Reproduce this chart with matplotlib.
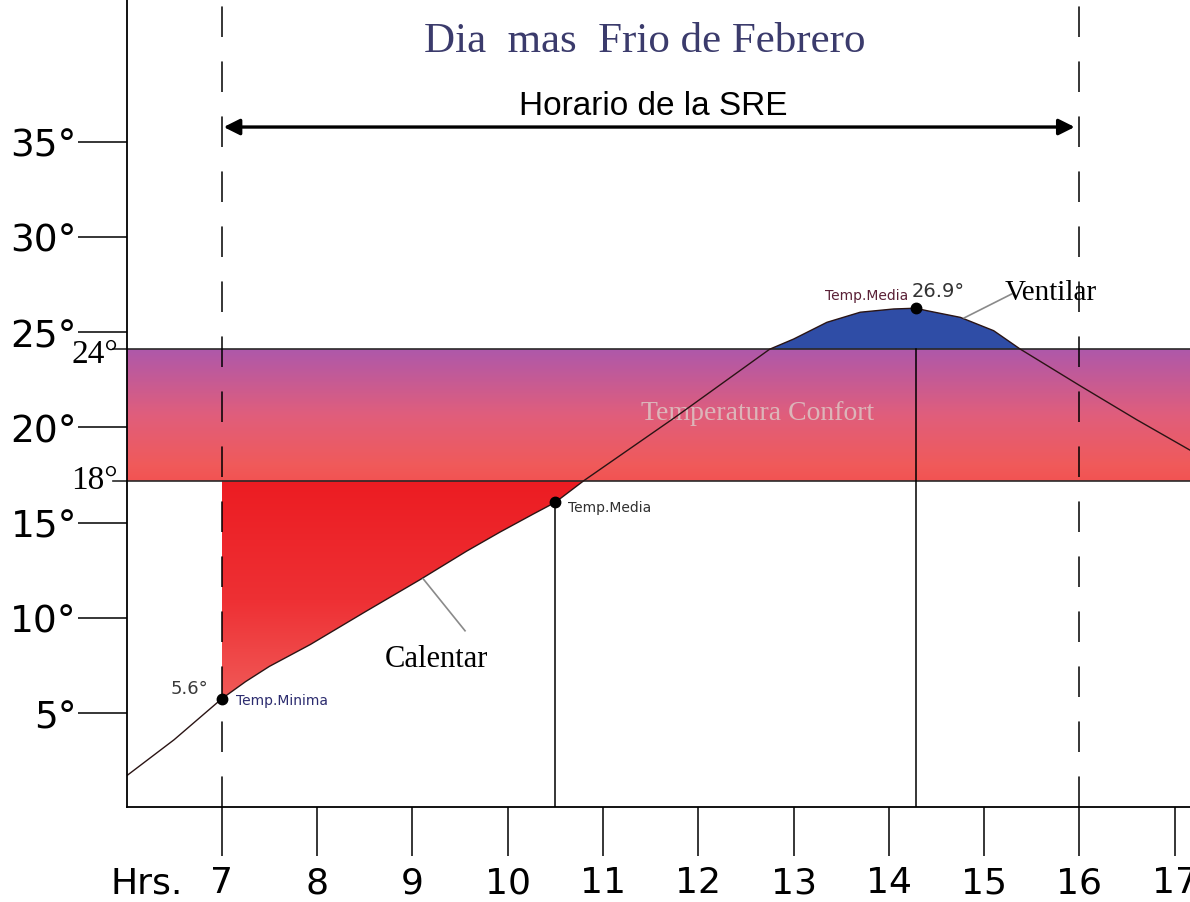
import numpy as np
import matplotlib
matplotlib.use("Agg")
import matplotlib.pyplot as plt
from matplotlib.colors import LinearSegmentedColormap

# ---------------- data ----------------
hours = [6.0, 6.5, 7.0, 7.25, 7.5, 7.93, 8.5, 9.08, 9.57, 9.92, 10.27,
         10.5, 10.8, 11.75, 12.75, 13.0, 13.35, 13.7, 14.05, 14.28, 14.4,
         14.75, 15.1, 15.38, 16.0, 16.6, 17.16]
temps = [1.7, 3.6, 5.75, 6.65, 7.45, 8.6, 10.3, 12.0, 13.5, 14.5, 15.45,
         16.06, 17.2, 20.5, 24.1, 24.63, 25.51, 26.04, 26.21, 26.25, 26.12,
         25.77, 25.07, 24.1, 22.2, 20.4, 18.8]

comfort_low = 17.2      # drawn level of the "18°" line
comfort_high = 24.1     # drawn level of the "24°" line
comfort_labels = ["18°", "24°"]

key_hours = [7.0, 10.5, 14.28]
key_temps = [5.75, 16.06, 26.25]
key_names = ["Temp.Minima", "Temp.Media", "Temp.Media"]
key_values = ["5.6°", "", "26.9°"]

sre_start, sre_end = 7, 16          # "Horario de la SRE"
x_ticks = [7, 8, 9, 10, 11, 12, 13, 14, 15, 16, 17]
x_tick_labels = ["7", "8", "9", "10", "11", "12", "13", "14", "15", "16", "17"]
y_ticks = [5, 10, 15, 20, 25, 30, 35]
y_tick_labels = ["5°", "10°", "15°", "20°", "25°", "30°", "35°"]

# heating region (Calentar) and ventilation region (Ventilar) index ranges
heat_slice = slice(2, 13)
vent_slice = slice(14, 24)

XMIN, XMAX = 6.006, 17.16
YMIN, YMAX = 0.07, 42.48

# ---------------- figure ----------------
W, H = 1190, 903
fig = plt.figure(figsize=(W / 100, H / 100), dpi=100)
ax = fig.add_axes([127 / W, (H - 808) / H, (W - 127) / W, 808 / H])
ax.set_facecolor("white")

# comfort band gradient
band_cmap = LinearSegmentedColormap.from_list(
    "band", [(0.0, "#f25352"), (0.12, "#f05a5a"), (0.5, "#e05e7c"), (1.0, "#ae58aa")])
grad = np.linspace(0, 1, 256).reshape(-1, 1)
ax.imshow(grad, extent=[XMIN, XMAX, comfort_low, comfort_high], origin="lower",
          aspect="auto", cmap=band_cmap, zorder=1, interpolation="bicubic")

# heating region with gradient
h_heat = np.array(hours[heat_slice])
t_heat = np.array(temps[heat_slice])
heat_poly = ax.fill_between(h_heat, t_heat, comfort_low, facecolor="none",
                            edgecolor="none", zorder=2)
red_cmap = LinearSegmentedColormap.from_list(
    "red", [(0.0, "#f05a58"), (0.45, "#ee3034"), (1.0, "#ec1c22")])
img = ax.imshow(grad, extent=[h_heat.min(), h_heat.max(), t_heat.min(), comfort_low],
                origin="lower", aspect="auto", cmap=red_cmap, zorder=2)
img.set_clip_path(heat_poly.get_paths()[0], transform=ax.transData)

# ventilation region
h_vent = np.array(hours[vent_slice])
t_vent = np.array(temps[vent_slice])
ax.fill_between(h_vent, t_vent, comfort_high, facecolor="#2f4da6",
                edgecolor="none", zorder=3)

# band edge lines (extend slightly left of the axis)
for lvl in (comfort_low, comfort_high):
    ax.plot([5.86, XMAX], [lvl, lvl], color="#2a2a2a", lw=1.2, zorder=4, clip_on=False)

# temperature curve
ax.plot(hours, temps, color="#2a1414", lw=1.0, zorder=5)

# vertical dashed lines (SRE schedule)
for xv in (sre_start, sre_end):
    ax.axvline(xv, color="black", lw=1.1, ls=(0, (20, 16)), zorder=6)

# vertical solid lines from key points
ax.plot([key_hours[1], key_hours[1]], [YMIN, key_temps[1]], color="black", lw=1.1, zorder=6)
ax.plot([key_hours[2], key_hours[2]], [YMIN, comfort_high], color="black", lw=1.1, zorder=6)

# key points
ax.plot(key_hours, key_temps, "o", color="black", ms=7.5, zorder=7)

# double arrow
ax.annotate("", xy=(sre_start + 0.02, 35.76), xytext=(sre_end - 0.05, 35.76),
            arrowprops=dict(arrowstyle="<|-|>", color="black", lw=2.4,
                            mutation_scale=24, shrinkA=0, shrinkB=0), zorder=8)
ax.text(11.53, 36.9, "Horario de la SRE", family="Liberation Sans", fontsize=24,
        ha="center", va="center", color="black")

# title
ax.text(11.44, 40.3, "Dia  mas  Frio de Febrero", family="Liberation Serif",
        fontsize=31, ha="center", va="center", color="#3b3b6c")

# comfort text
ax.text(12.62, 20.8, "Temperatura Confort", family="Liberation Serif", fontsize=20,
        ha="center", va="center", color="#dcc0c0", alpha=0.9, zorder=4)

# key point annotations
ax.text(7.15, 5.69, key_names[0], family="DejaVu Sans", fontsize=10, ha="left",
        va="center", color="#2b2b6e", zorder=8)
ax.text(6.86, 6.3, key_values[0], family="DejaVu Sans", fontsize=13, ha="right",
        va="center", color="#3a3a3a", zorder=8)
ax.text(10.63, 15.82, key_names[1], family="DejaVu Sans", fontsize=10, ha="left",
        va="center", color="#303030", zorder=8)
ax.text(14.2, 26.95, key_names[2], family="DejaVu Sans", fontsize=10, ha="right",
        va="center", color="#5a2036", zorder=8)
ax.text(14.24, 27.2, key_values[2], family="DejaVu Sans", fontsize=14, ha="left",
        va="center", color="#333333", zorder=8)

# Ventilar / Calentar labels with leader lines
ax.plot([14.79, 15.29], [25.74, 27.0], color="#8a8a8a", lw=1.2, zorder=8)
ax.text(15.22, 27.1, "Ventilar", family="Liberation Serif", fontsize=21,
        ha="left", va="center", color="black", zorder=8)
ax.plot([9.115, 9.553], [12.04, 9.32], color="#8a8a8a", lw=1.2, zorder=8)
ax.text(9.25, 7.84, "Calentar", family="Liberation Serif", fontsize=22,
        ha="center", va="center", color="black", zorder=8)

# comfort band labels
ax.text(5.91, 23.85, comfort_labels[1], family="Liberation Serif", fontsize=24,
        ha="right", va="center", color="black", zorder=8)
ax.text(5.91, 17.23, comfort_labels[0], family="Liberation Serif", fontsize=24,
        ha="right", va="center", color="black", zorder=8)

# axes styling
for s in ("top", "right"):
    ax.spines[s].set_visible(False)
for s in ("left", "bottom"):
    ax.spines[s].set_linewidth(1.3)
    ax.spines[s].set_color("black")
    ax.spines[s].set_zorder(9)

ax.set_xticks(x_ticks, labels=x_tick_labels)
ax.set_yticks(y_ticks, labels=y_tick_labels)
ax.tick_params(axis="x", direction="out", length=35, width=1.1, pad=7,
               labelsize=26, colors="black")
ax.tick_params(axis="y", direction="out", length=35, width=1.1, pad=1,
               labelsize=27, colors="black")
for lab in ax.get_xticklabels() + ax.get_yticklabels():
    lab.set_family("DejaVu Sans")

ax.annotate("Hrs.", xy=(6.594, 0), xycoords=("data", "axes fraction"),
            xytext=(0, -(35 + 7)), textcoords="offset points",
            ha="right", va="top", fontsize=26, family="DejaVu Sans")

ax.set_xlim(XMIN, XMAX)
ax.set_ylim(YMIN, YMAX)

fig.savefig("out.png", dpi=100, facecolor="white")
